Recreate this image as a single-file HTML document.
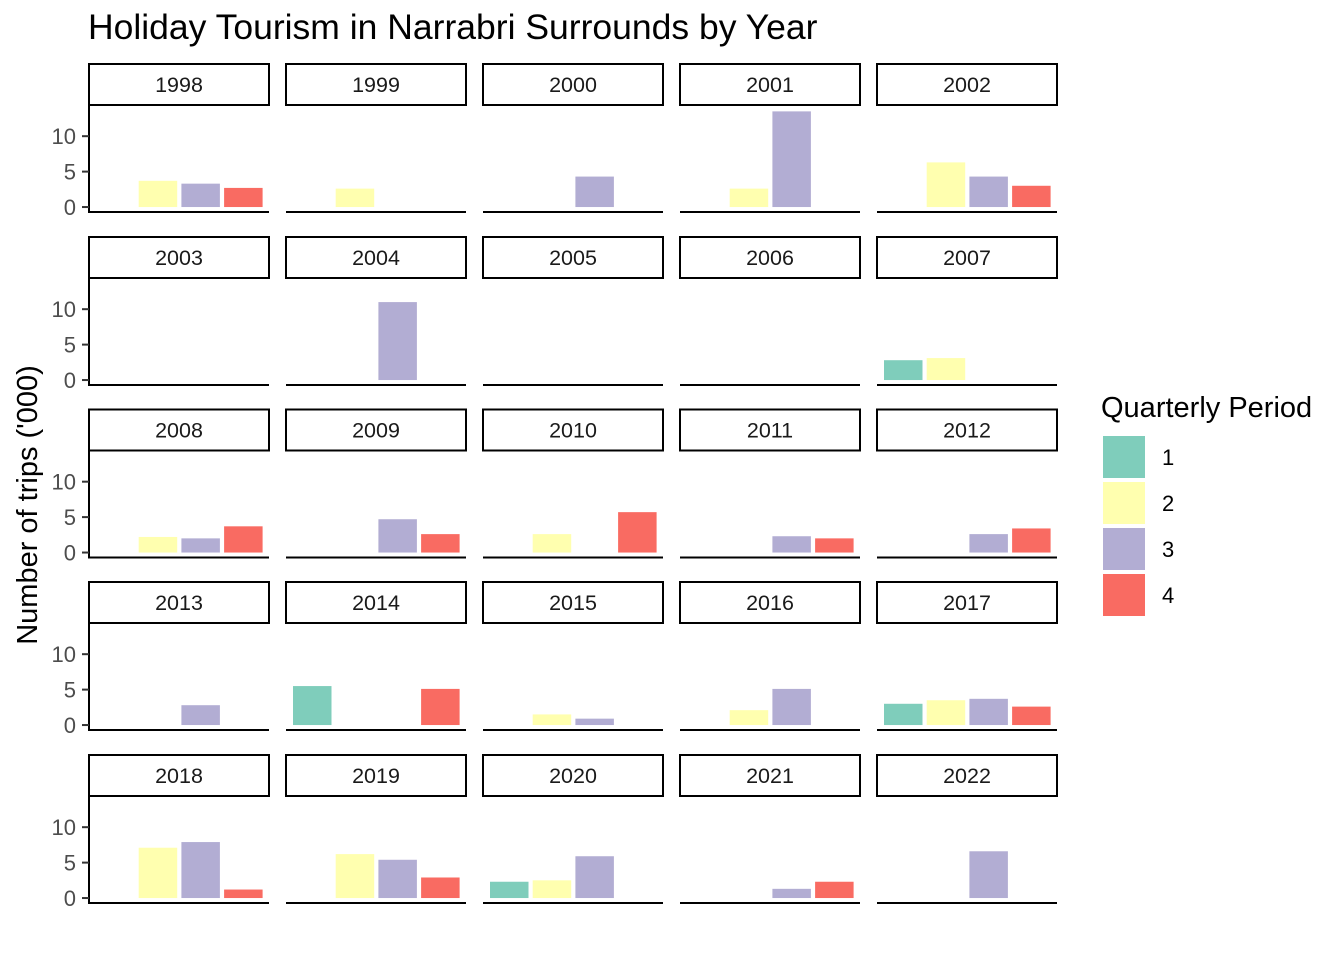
<!DOCTYPE html>
<html><head><meta charset="utf-8"><style>
html,body{margin:0;padding:0;background:#fff;}
svg{display:block;font-family:"Liberation Sans",Arial,sans-serif;}
</style></head><body>
<svg id="chart" width="1344" height="960" viewBox="0 0 1344 960" xmlns="http://www.w3.org/2000/svg">
<text x="88" y="39" font-size="35.5" fill="#000">Holiday Tourism in Narrabri Surrounds by Year</text>
<text transform="translate(37,505) rotate(-90)" text-anchor="middle" font-size="29" fill="#000">Number of trips ('000)</text>
<g id="panels"></g>
<g id="legend"></g>
</svg>
<script>
const years = [1998,1999,2000,2001,2002,2003,2004,2005,2006,2007,2008,2009,2010,2011,2012,2013,2014,2015,2016,2017,2018,2019,2020,2021,2022];
const quarters = [1,2,3,4];
const q1 = [null,null,null,null,null,null,null,null,null,2.8,null,null,null,null,null,null,5.5,null,null,3.0,null,null,2.3,null,null];
const q2 = [3.7,2.6,null,2.6,6.3,null,null,null,null,3.1,2.2,null,2.6,null,null,null,null,1.5,2.1,3.5,7.1,6.2,2.5,null,null];
const q3 = [3.3,null,4.3,13.5,4.3,null,11.0,null,null,null,2.0,4.7,null,2.3,2.6,2.8,null,0.9,5.1,3.7,7.9,5.4,5.9,1.3,6.6];
const q4 = [2.7,null,null,null,3.0,null,null,null,null,null,3.7,2.6,5.7,2.0,3.4,null,5.1,null,null,2.6,1.2,2.9,null,2.3,null];
const yTicks = [0,5,10];
const colors = ["#7FCDBB","#FFFFAF","#B2ADD3","#F96B62"];
const series=[q1,q2,q3,q4];
const NS="http://www.w3.org/2000/svg";
const panelW=180, colStart=[89,286,483,680,877], rowStart=[63,236,408.5,581,754];
const stripH=42, plotH=107;
const yMin=-0.7, yMax=14.4;
function mk(tag,attrs,parent){const e=document.createElementNS(NS,tag);for(const k in attrs)e.setAttribute(k,attrs[k]);parent.appendChild(e);return e;}
const root=document.getElementById('panels');
years.forEach((yr,i)=>{
  const c=i%5, r=Math.floor(i/5);
  const x0=colStart[c], top=rowStart[r]+stripH, bot=top+plotH;
  const ys=v=>bot-(v-yMin)/(yMax-yMin)*plotH;
  const xs=q=>x0+7+(q-1)*42.7;
  const g=mk('g',{},root);
  
  
  const s=mk('rect',{x:x0,y:rowStart[r]+1,width:panelW,height:stripH-1,fill:'#fff',stroke:'#000','stroke-width':2},g);
  
  
  const st=mk('text',{x:x0+panelW/2,y:rowStart[r]+29,'text-anchor':'middle','font-size':'21.5',fill:'#1a1a1a'},g);
  st.textContent=yr;
  
  
  series.forEach((arr,qi)=>{
    const v=arr[i]; if(v==null) return;
    const b=mk('rect',{x:xs(qi+1),y:ys(v),width:38.5,height:ys(0)-ys(v),fill:colors[qi]},g);
    
    
  });
  const xa=mk('line',{x1:x0,x2:x0+panelW,y1:bot,y2:bot,stroke:'#000','stroke-width':2},g);
  
  
  if(c===0){
    const ya=mk('line',{x1:x0,x2:x0,y1:top,y2:bot+1,stroke:'#000','stroke-width':2},g);
    
    
    yTicks.forEach(t=>{
      const tk=mk('line',{x1:x0-7,x2:x0,y1:ys(t),y2:ys(t),stroke:'#333','stroke-width':2},g);
      
      
      const tl=mk('text',{x:x0-13,y:ys(t)+8,'text-anchor':'end','font-size':'22',fill:'#4d4d4d'},g);
      tl.textContent=t;
      
      
    });
  }
});
const lg=document.getElementById('legend');
const lt=mk('text',{x:1101,y:417,'font-size':'29',fill:'#000'},lg);
lt.textContent='Quarterly Period';


quarters.forEach((q,qi)=>{
  const y=436+qi*46;
  const k=mk('rect',{x:1103,y:y,width:42,height:42,fill:colors[qi]},lg);
  
  
  const t=mk('text',{x:1162,y:y+29,'font-size':'22',fill:'#000'},lg);
  t.textContent=q;
  
  
});
</script>
</body></html>
